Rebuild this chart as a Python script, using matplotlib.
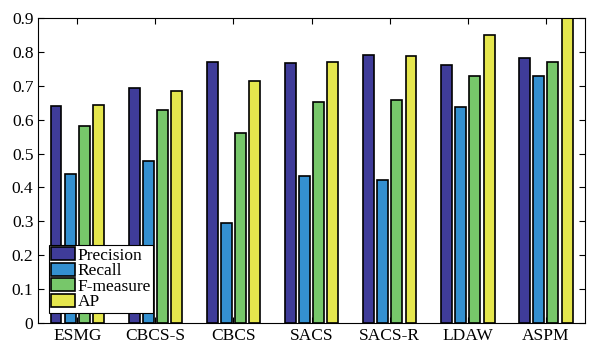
import numpy as np
import matplotlib.pyplot as plt

plt.rcParams['font.family'] = ['Liberation Serif', 'DejaVu Serif']

methods = ["ESMG", "CBCS-S", "CBCS", "SACS", "SACS-R", "LDAW", "ASPM"]
precision = [0.640, 0.695, 0.771, 0.768, 0.792, 0.761, 0.782]
recall = [0.441, 0.478, 0.296, 0.435, 0.422, 0.638, 0.730]
fmeasure = [0.580, 0.630, 0.562, 0.653, 0.659, 0.728, 0.770]
ap = [0.642, 0.686, 0.714, 0.770, 0.789, 0.851, 0.900]

series = [precision, recall, fmeasure, ap]
names = ["Precision", "Recall", "F-measure", "AP"]
colors = ["#3f3c99", "#3490d0", "#77c76a", "#e5e64d"]

fig = plt.figure(figsize=(5.89, 3.48), dpi=100)
ax = fig.add_axes([0.065, 0.072, 0.928, 0.876])

x = np.arange(1, len(methods) + 1)
step = 0.182
w = 0.14
for i, (vals, name, c) in enumerate(zip(series, names, colors)):
    ax.bar(x + (i - 1.5) * step, vals, w, color=c, edgecolor="black",
           linewidth=1.2, label=name, zorder=2)

ax.set_xlim(0.5, len(methods) + 0.5)
ax.set_ylim(0, 0.9)
ax.set_xticks(x)
ax.set_xticklabels(methods)
ax.set_yticks(np.arange(0, 0.91, 0.1))
ax.set_yticklabels(["0"] + ["%.1f" % v for v in np.arange(0.1, 0.91, 0.1)])
ax.tick_params(direction="in", top=True, right=True, labelsize=12.5,
               length=4, width=0.8)
for s in ax.spines.values():
    s.set_linewidth(0.8)
    s.set_zorder(3)

leg = ax.legend(loc="lower left", fontsize=12.5, framealpha=1,
                frameon=True, fancybox=False, edgecolor="black",
                handlelength=1.4, handleheight=0.75, handletextpad=0.15,
                labelspacing=-0.05, borderpad=0.12, borderaxespad=0.6)
leg.get_frame().set_linewidth(0.8)

fig.savefig("out.png", dpi=100)
